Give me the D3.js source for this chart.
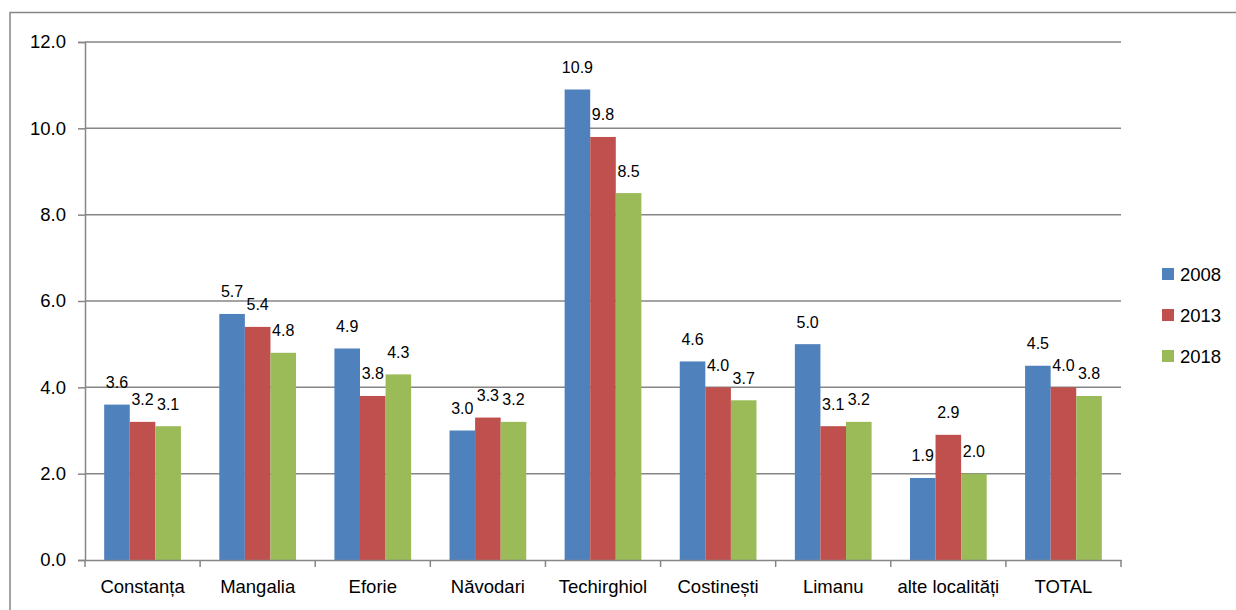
<!DOCTYPE html>
<html><head><meta charset="utf-8">
<script src="https://cdn.jsdelivr.net/npm/d3@7"></script>
<style>body{margin:0;background:#fff}svg{display:block}</style>
</head><body>
<script>
const categories = ["Constanța","Mangalia","Eforie","Năvodari","Techirghiol","Costinești","Limanu","alte localități","TOTAL"];
const seriesNames = ["2008","2013","2018"];
const values2008 = [3.6,5.7,4.9,3.0,10.9,4.6,5.0,1.9,4.5];
const values2013 = [3.2,5.4,3.8,3.3,9.8,4.0,3.1,2.9,4.0];
const values2018 = [3.1,4.8,4.3,3.2,8.5,3.7,3.2,2.0,3.8];
const yTicks = [0,2,4,6,8,10,12];
const colors = ["#4F81BD","#C0504D","#9BBB59"];

const W=1236,H=610;
const svg=d3.select("body").append("svg").attr("width",W).attr("height",H);
const font="'Liberation Sans', Arial, sans-serif";
const grey="#868686";

// outer frame
svg.append("rect").attr("x",10).attr("y",12.5).attr("width",1240).attr("height",620)
  .attr("fill","none").attr("stroke",grey).attr("stroke-width",1.5);

const x0=d3.scaleBand().domain(categories).range([85,1121]).paddingInner(0).paddingOuter(0);
const bw=x0.bandwidth()/4.5;
const x1=d3.scaleBand().domain(seriesNames).range([0,bw*3]);
const y=d3.scaleLinear().domain([0,12]).range([560,42]);

// gridlines
svg.append("g").selectAll("line").data(yTicks.filter(d=>d>0)).join("line")
  .attr("x1",85).attr("x2",1121).attr("y1",d=>y(d)).attr("y2",d=>y(d))
  .attr("stroke",grey).attr("stroke-width",1.5);

// y axis
const ya=svg.append("g").attr("transform","translate(85,0)")
  .call(d3.axisLeft(y).tickValues(yTicks).tickFormat(d3.format(".1f")).tickSize(7).tickPadding(12));
ya.select(".domain").attr("stroke",grey).attr("stroke-width",1.5);
ya.selectAll(".tick line").attr("stroke",grey).attr("stroke-width",1.5);
ya.selectAll("text").attr("font-family",font).attr("font-size","18.5px").attr("fill","#000");

const data=categories.map((c,i)=>({cat:c,vals:[values2008[i],values2013[i],values2018[i]]}));
const groups=svg.append("g").selectAll("g").data(data).join("g")
  .attr("transform",d=>`translate(${x0(d.cat)+x0.bandwidth()/2-bw*1.5},0)`);
groups.selectAll("rect").data(d=>d.vals.map((v,k)=>({v,k}))).join("rect")
  .attr("x",d=>x1(seriesNames[d.k])).attr("width",x1.bandwidth())
  .attr("y",d=>y(d.v)).attr("height",d=>y(0)-y(d.v)).attr("fill",d=>colors[d.k]);
groups.selectAll("text").data(d=>d.vals.map((v,k)=>({v,k}))).join("text")
  .attr("x",d=>x1(seriesNames[d.k])+x1.bandwidth()/2).attr("y",d=>y(d.v)-16.5)
  .attr("text-anchor","middle").attr("font-family",font).attr("font-size","16px")
  .text(d=>d3.format(".1f")(d.v));

// x axis
const xa=svg.append("g").attr("transform","translate(0,560)")
  .call(d3.axisBottom(x0).tickSize(0).tickPadding(20));
xa.select(".domain").attr("stroke",grey).attr("stroke-width",1.5);
xa.selectAll("text").attr("font-family",font).attr("font-size","18.5px").attr("fill","#000");
svg.append("g").selectAll("line").data(d3.range(categories.length+1)).join("line")
  .attr("x1",i=>85+i*x0.step()).attr("x2",i=>85+i*x0.step()).attr("y1",560).attr("y2",567)
  .attr("stroke",grey).attr("stroke-width",1.5);

// legend
const lg=svg.append("g").selectAll("g").data(seriesNames).join("g")
  .attr("transform",(d,i)=>`translate(1162,${274+i*41})`);
lg.append("rect").attr("x",0).attr("y",-6).attr("width",12).attr("height",12).attr("fill",(d,i)=>colors[i]);
lg.append("text").attr("x",18).attr("y",0).attr("dy","0.36em").attr("font-family",font)
  .attr("font-size","18.5px").text(d=>d);
</script>
</body></html>
